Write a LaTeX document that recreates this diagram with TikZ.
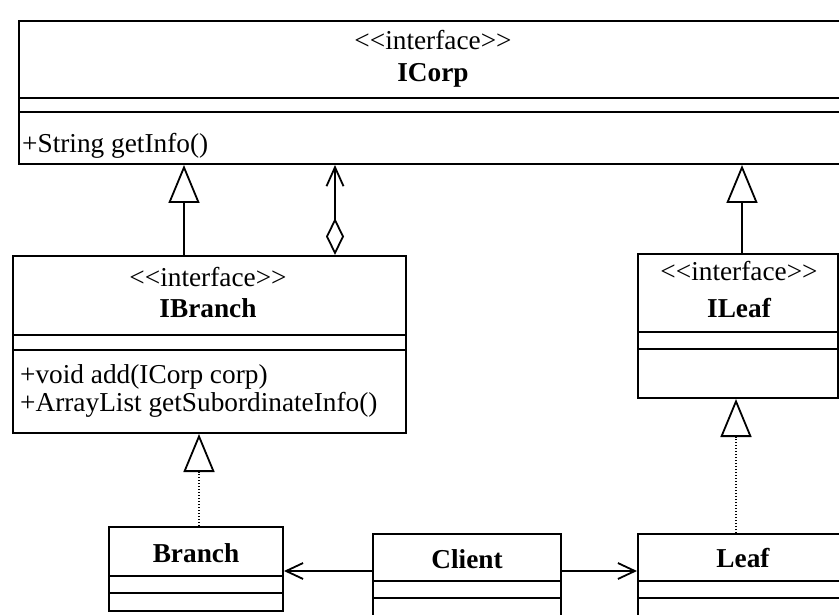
\documentclass[tikz,border=0pt]{standalone}
\usepackage{fontspec}
\setmainfont{Liberation Serif}
\usetikzlibrary{arrows.meta}

\newcommand{\stereo}{<\kern0pt<interface>\kern0pt>}

\begin{document}
\begin{tikzpicture}[x=1pt,y=-1pt,
  every node/.style={font=\fontsize{27.3}{28}\selectfont},
  umlbox/.style={draw,line width=2pt,inner sep=0pt,anchor=north west},
  txt/.style={inner sep=0pt,anchor=base},
  gen/.style={line width=1.8pt,-{Triangle[open,length=38pt,width=31pt,line width=1.8pt]}},
  real/.style={gen,dash pattern=on 1.5pt off 1.5pt},
  agg/.style={line width=1.8pt,{Diamond[open,length=37pt,width=18pt]}-{Straight Barb[length=19pt,width=17pt]}},
  dep/.style={line width=1.8pt,-{Straight Barb[length=17pt,width=16pt]}}]
\useasboundingbox (0,0) rectangle (839,615);
\node[umlbox,minimum width=832pt,minimum height=143pt] (icorp) at (18,20) {};
\node[umlbox,minimum width=393pt,minimum height=177pt] (ibranch) at (12,255) {};
\node[umlbox,minimum width=200pt,minimum height=144pt] (ileaf) at (637,253) {};
\node[umlbox,minimum width=174pt,minimum height=84pt] (branch) at (108,526) {};
\node[umlbox,minimum width=188pt,minimum height=97pt] (client) at (372,533) {};
\node[umlbox,minimum width=210pt,minimum height=97pt] (leaf) at (637,533) {};
\foreach \n/\a/\b in {icorp/78/92,ibranch/80/95,ileaf/79/96,branch/50/67,client/48/65,leaf/48/65}{
  \draw[line width=2pt] ([yshift=-\a pt]\n.north west) -- ([yshift=-\a pt]\n.north east);
  \draw[line width=2pt] ([yshift=-\b pt]\n.north west) -- ([yshift=-\b pt]\n.north east);
}
\node[txt] (icorpst) at (433,50) {\stereo};
\node[txt] (icorpnm) at (433,82) {\bfseries ICorp};
\node[txt,anchor=base west] (icorpop) at (22,153) {+String getInfo()};
\node[txt] (ibranchst) at (208,287) {\stereo};
\node[txt] (ibranchnm) at (208,317) {\bfseries IBranch};
\node[txt,anchor=base west] (ibranchop) at (20,383) {+void add(ICorp corp)};
\node[txt,anchor=base west] (ibranchop2) at (20,411) {+ArrayList getSubordinateInfo()};
\node[txt] (ileafst) at (739,280) {\stereo};
\node[txt] (ileafnm) at (739,317) {\bfseries ILeaf};
\node[txt] (branchnm) at (196,562) {\bfseries Branch};
\node[txt] (clientnm) at (467,568) {\bfseries Client};
\node[txt] (leafnm) at (743,567) {\bfseries Leaf};
\draw[gen] ([xshift=172]ibranch.north west) coordinate (g1) -- (g1 |- icorp.south);
\draw[agg] ([xshift=323]ibranch.north west) coordinate (g2) -- (g2 |- icorp.south);
\draw[gen] ([xshift=105]ileaf.north west) coordinate (g3) -- (g3 |- icorp.south);
\draw[real] ([xshift=91]branch.north west) coordinate (r1) -- (r1 |- ibranch.south);
\draw[real] ([xshift=99]leaf.north west) coordinate (r2) -- (r2 |- ileaf.south);
\draw[dep] ([yshift=-38]client.north west) coordinate (d1) -- (d1 -| branch.east);
\draw[dep] ([yshift=-38]client.north east) coordinate (d2) -- (d2 -| leaf.west);
\end{tikzpicture}
\end{document}
